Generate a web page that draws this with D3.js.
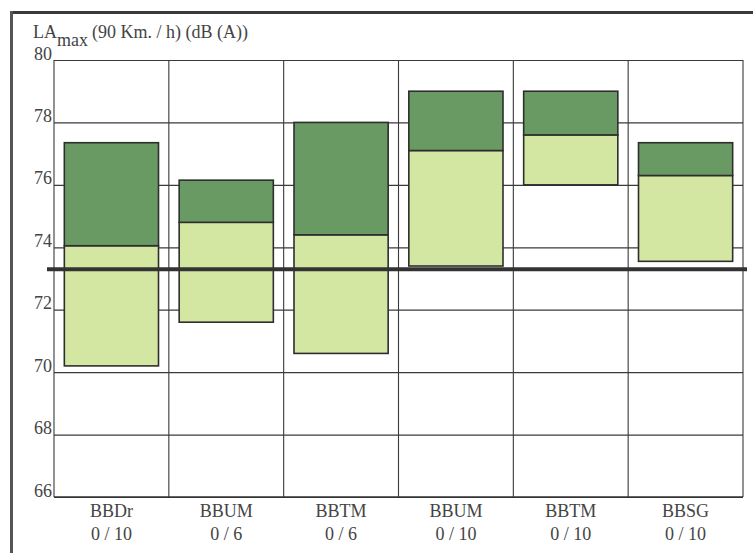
<!DOCTYPE html>
<html>
<head>
<meta charset="utf-8">
<script src="https://cdn.jsdelivr.net/npm/d3@7"></script>
<style>
    body { margin: 0; background: #fff; }
    #chart { width: 753px; height: 553px; }
</style>
</head>
<body>
<div id="chart"></div>
<script>
// data
let categories = ["BBDr", "BBUM", "BBTM", "BBUM", "BBTM", "BBSG"];
let subLabels = ["0 / 10", "0 / 6", "0 / 6", "0 / 10", "0 / 10", "0 / 10"];
let lowValues = [70.2, 71.6, 70.6, 73.4, 76.0, 73.55];
let midValues = [74.05, 74.8, 74.4, 77.1, 77.6, 76.3];
let highValues = [77.35, 76.15, 78.0, 79.0, 79.0, 77.35];
let yTicks = [66, 68, 70, 72, 74, 76, 78, 80];
let refLevel = 73.3;

let serif = "'Liberation Serif', 'Times New Roman', 'DejaVu Serif', serif";

let margin = {top: 60, right: 10, bottom: 56, left: 54};
let width = 743 - margin.left;
let height = 497 - margin.top;

let root = d3.select("#chart").append("svg")
    .attr("width", 753)
    .attr("height", 553)
    .attr("font-family", serif);

// frame (top and left edges of the printed box)
root.append("line")
    .attr("x1", 10).attr("x2", 753)
    .attr("y1", 12.5).attr("y2", 12.5)
    .attr("stroke", "#3a3a3a").attr("stroke-width", 3);
root.append("line")
    .attr("x1", 11.5).attr("x2", 11.5)
    .attr("y1", 11).attr("y2", 553)
    .attr("stroke", "#555").attr("stroke-width", 3);

let svg = root.append("g")
    .attr("transform", `translate(${margin.left}, ${margin.top})`);

let idx = categories.map((d, i) => i);

let x = d3.scaleBand()
    .domain(idx)
    .range([0, width])
    .paddingInner(0.18)
    .paddingOuter(0.09);

let y = d3.scaleLinear()
    .domain([66, 80])
    .range([height, 0]);

// horizontal grid
svg.append("g")
    .attr("class", "y-grid")
    .call(d3.axisLeft(y).tickValues(yTicks).tickSize(-width).tickFormat("").tickSizeOuter(0))
    .call(g => g.select(".domain").remove())
    .call(g => g.selectAll("line").attr("stroke", "#3a3a3a").attr("stroke-width", 1.2));

// vertical grid at band boundaries
let step = x.step();
let vx = d3.range(categories.length + 1).map(i => i * step);
svg.selectAll(".vgrid")
    .data(vx)
    .enter().append("line")
    .attr("class", "vgrid")
    .attr("x1", d => d).attr("x2", d => d)
    .attr("y1", 0).attr("y2", height)
    .attr("stroke", "#3a3a3a")
    .attr("stroke-width", 1.1);

// bottom axis line
svg.append("line")
    .attr("x1", 0).attr("x2", width)
    .attr("y1", height).attr("y2", height)
    .attr("stroke", "#333").attr("stroke-width", 1.6);

// y tick labels
svg.selectAll(".ylab")
    .data(yTicks)
    .enter().append("text")
    .attr("class", "ylab")
    .attr("x", -2)
    .attr("y", d => y(d))
    .attr("dy", "-0.02em")
    .attr("fill", "#444")
    .style("text-anchor", "end")
    .style("font-size", "18px")
    .text(d => d);

// bars: lower part (light) and upper part (dark)
svg.selectAll(".lowbar")
    .data(idx)
    .enter().append("rect")
    .attr("class", "lowbar")
    .attr("x", i => x(i))
    .attr("width", x.bandwidth())
    .attr("y", i => y(midValues[i]))
    .attr("height", i => y(lowValues[i]) - y(midValues[i]))
    .attr("fill", "#d3e7a3")
    .attr("stroke", "#2e2e2e")
    .attr("stroke-width", 1.6);

svg.selectAll(".highbar")
    .data(idx)
    .enter().append("rect")
    .attr("class", "highbar")
    .attr("x", i => x(i))
    .attr("width", x.bandwidth())
    .attr("y", i => y(highValues[i]))
    .attr("height", i => y(midValues[i]) - y(highValues[i]))
    .attr("fill", "#6a9a63")
    .attr("stroke", "#2e2e2e")
    .attr("stroke-width", 1.6);

// reference level
svg.append("line")
    .attr("x1", -7).attr("x2", width + 4)
    .attr("y1", y(refLevel)).attr("y2", y(refLevel))
    .attr("stroke", "#333")
    .attr("stroke-width", 4);

// category labels
let labs = svg.selectAll(".xlab")
    .data(idx)
    .enter().append("text")
    .attr("class", "xlab")
    .attr("x", i => x(i) + x.bandwidth() / 2)
    .attr("y", height + 20)
    .attr("fill", "#444")
    .style("text-anchor", "middle")
    .style("font-size", "18px");
labs.append("tspan").text(i => categories[i]);
labs.append("tspan")
    .attr("x", i => x(i) + x.bandwidth() / 2)
    .attr("dy", 23)
    .text(i => subLabels[i]);

// axis title
let title = root.append("text")
    .attr("x", 33)
    .attr("y", 38)
    .attr("fill", "#444")
    .style("font-size", "18px");
title.append("tspan").text("LA");
title.append("tspan").attr("dy", 8).text("max");
title.append("tspan").attr("dy", -8).attr("dx", 4).text("(90 Km. / h) (dB (A))");
</script>
</body>
</html>
